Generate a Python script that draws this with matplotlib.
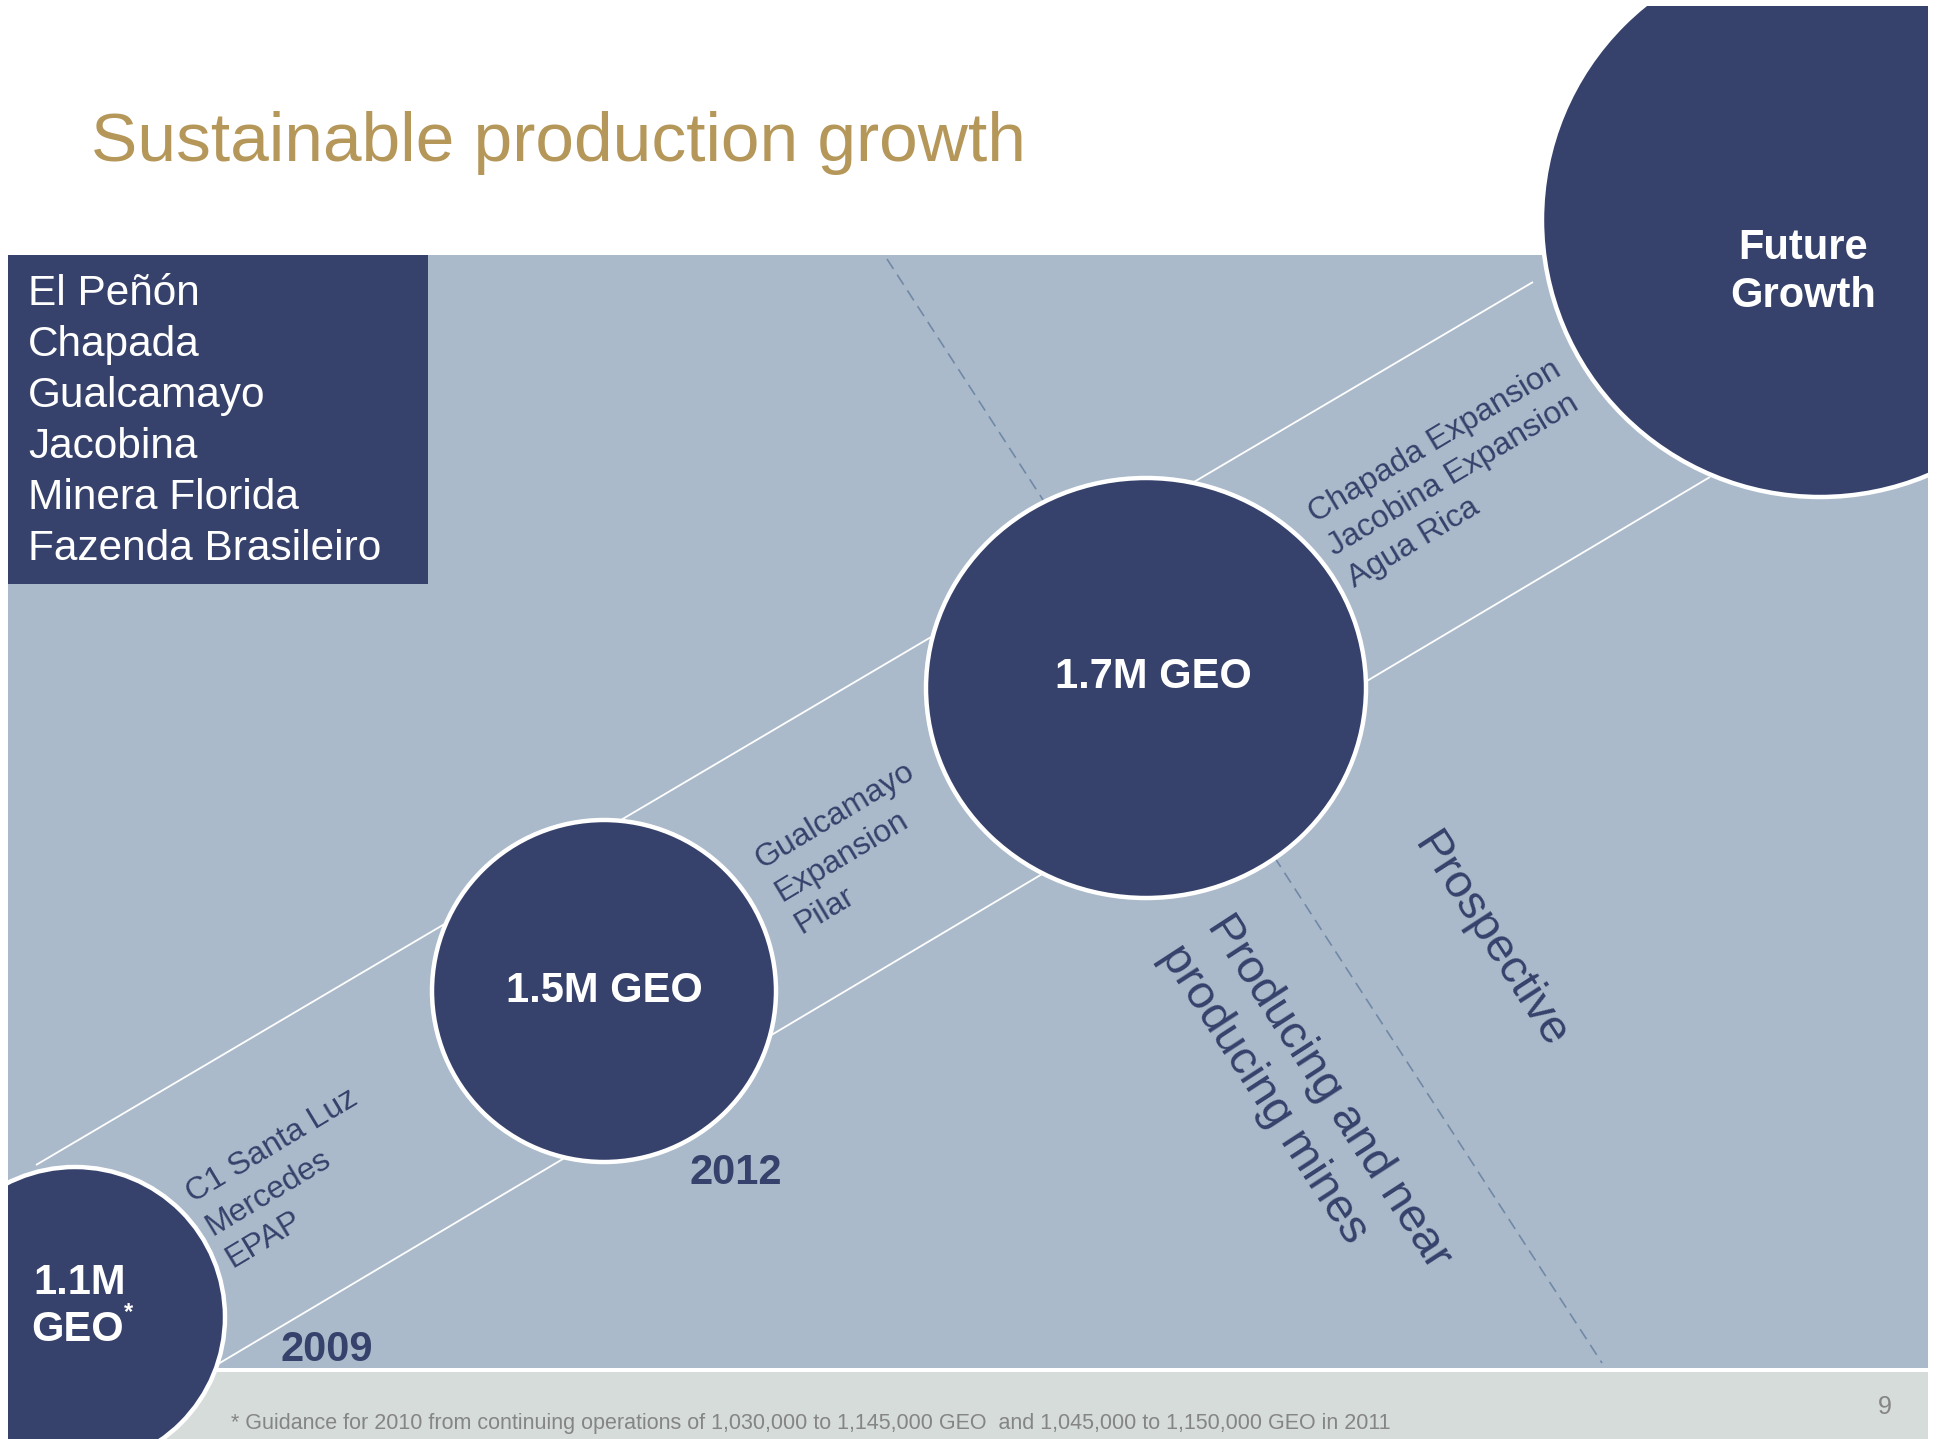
import matplotlib
matplotlib.use("Agg")
import matplotlib.pyplot as plt
from matplotlib.patches import Rectangle, Ellipse
import numpy as np

# ---------------- data ----------------
title = "Sustainable production growth"
mines = ["El Peñón", "Chapada", "Gualcamayo", "Jacobina", "Minera Florida", "Fazenda Brasileiro"]
production_labels = ["1.1M", "1.5M GEO", "1.7M GEO", "Future\nGrowth"]
years = ["2009", "2012"]
project_groups = [
    ["C1 Santa Luz", "Mercedes", "EPAP"],
    ["Gualcamayo", "Expansion", "Pilar"],
    ["Chapada Expansion", "Jacobina Expansion", "Agua Rica"],
]
stage_producing = ["Producing and near", "producing mines"]
stage_prospective = "Prospective"
footnote = ("* Guidance for 2010 from continuing operations of 1,030,000 to 1,145,000 GEO"
            "  and 1,045,000 to 1,150,000 GEO in 2011")
page_number = "9"

# ---------------- style ----------------
NAVY = "#36426B"
PANEL = "#AABACA"
FOOT = "#D5DCDA"
GOLD = "#B5975A"
DASH = "#7189A6"
GREY = "#858585"
FONT = "Liberation Sans"
plt.rcParams["font.family"] = [FONT, "DejaVu Sans"]
plt.rcParams["lines.scale_dashes"] = False

W, H = 1937, 1439
fig = plt.figure(figsize=(W / 100, H / 100), dpi=100)
ax = fig.add_axes([0, 0, 1, 1])
ax.set_xlim(0, W)
ax.set_ylim(H, 0)
ax.axis("off")
fig.patch.set_facecolor("white")

# background panels
ax.add_patch(Rectangle((8, 255), 1920, 1113, facecolor=PANEL, edgecolor="none", zorder=1))
ax.add_patch(Rectangle((8, 1372), 1920, 67, facecolor=FOOT, edgecolor="none", zorder=1))

# mines box
ax.add_patch(Rectangle((8, 255), 420, 329, facecolor=NAVY, edgecolor="none", zorder=2))
for i, m in enumerate(mines):
    ax.text(28, 305 + i * 51, m, color="white", fontsize=30.5, ha="left", va="baseline", zorder=3)

# growth corridor lines
ax.plot([36, 1533], [1165, 282], color="white", lw=1.3, zorder=2, solid_capstyle="butt")
ax.plot([213, 1710], [1367, 477], color="white", lw=1.3, zorder=2, solid_capstyle="butt")

# dashed divider
ax.plot([887, 1602], [259, 1363], color=DASH, lw=1.2, dashes=(8.5, 5), zorder=2)

# circles
clip = Rectangle((8, 6), 1920, 1433, transform=ax.transData, facecolor="none", edgecolor="none")
circles = [((75, 1317), 300, 300), ((604, 991), 344, 342), ((1146, 688), 440, 420), ((1820, 220), 556, 554)]
for (c, w, h) in circles:
    e = Ellipse(c, w, h, facecolor=NAVY, edgecolor="white", lw=3.2, zorder=4)
    ax.add_patch(e)
    e.set_clip_path(clip)

bold = dict(color="white", fontsize=30, fontweight="bold", zorder=5)
ax.text(33, 1283, production_labels[0], ha="left", va="center", **bold)
ax.text(31, 1330, "GEO", ha="left", va="center", **bold)
ax.text(124, 1313, "*", ha="left", va="center", color="white", fontsize=17, fontweight="bold", zorder=5)
ax.text(604, 991, production_labels[1], ha="center", va="center", **bold)
ax.text(1153, 677, production_labels[2], ha="center", va="center", **bold)
ax.text(1803, 272, production_labels[3], ha="center", va="center", linespacing=1.25, **bold)

# years
ax.text(327, 1350, years[0], ha="center", va="center", color=NAVY, fontsize=30, fontweight="bold", zorder=5)
ax.text(736, 1173, years[1], ha="center", va="center", color=NAVY, fontsize=30, fontweight="bold", zorder=5)


def rot_lines(lines, start, angle, spacing, va="baseline", **kw):
    th = np.radians(angle)
    down = np.array([np.sin(th), np.cos(th)])
    for i, s in enumerate(lines):
        p = np.array(start, dtype=float) + i * spacing * down
        ax.text(p[0], p[1], s, rotation=angle, rotation_mode="anchor",
                ha="left", va=va, zorder=5, **kw)


label_starts = [(193, 1203), (762, 869), (1315, 523)]
for grp, st in zip(project_groups, label_starts):
    rot_lines(grp, st, 31, 38, color=NAVY, fontsize=23)

rot_lines(stage_producing, (1216, 919), -57, 55, va="center", color=NAVY, fontsize=34)
ax.text(1490, 940, stage_prospective, rotation=-57, rotation_mode="anchor", ha="center", va="center",
        color=NAVY, fontsize=34, zorder=5)

# title & footer
ax.text(91, 161, title, color=GOLD, fontsize=50, ha="left", va="baseline", zorder=5)
ax.text(231, 1423, footnote, color=GREY, fontsize=15.5, ha="left", va="center", zorder=5)
ax.text(1885, 1407, page_number, color=GREY, fontsize=18, ha="center", va="center", zorder=5)

fig.savefig("out.png", dpi=100, facecolor="white")
